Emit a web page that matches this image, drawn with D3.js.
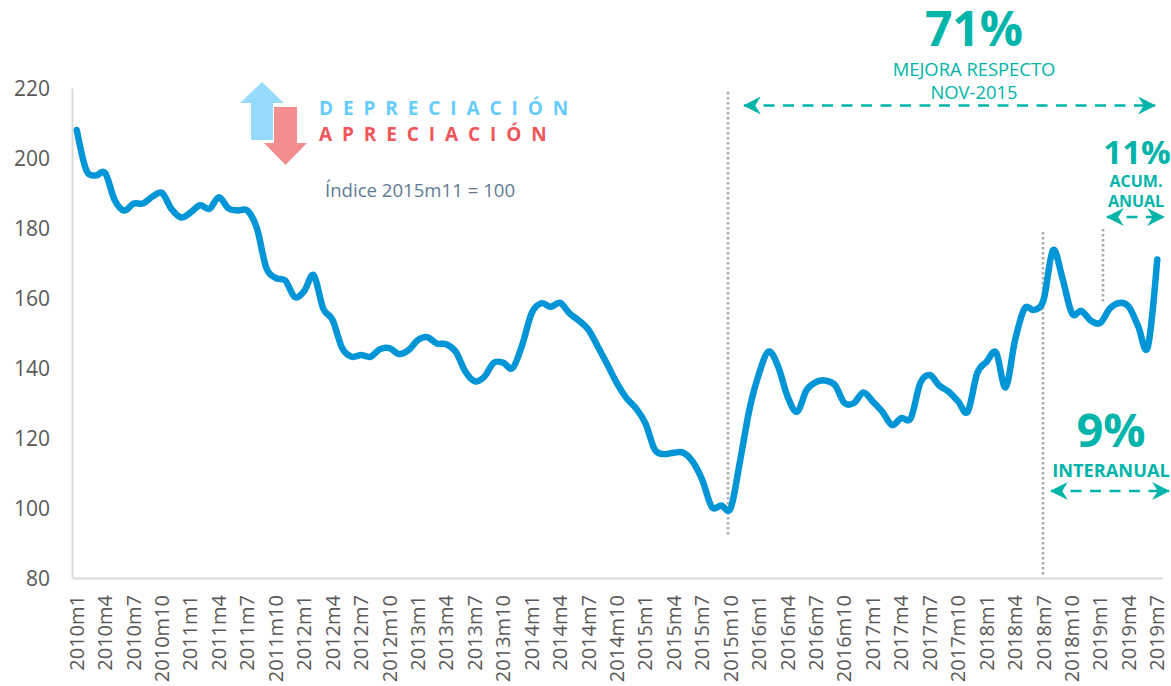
<!DOCTYPE html>
<html>
<head>
<meta charset="utf-8">
<script src="https://cdn.jsdelivr.net/npm/d3@7"></script>
<style>
  body { margin: 0; background: #fff; }
  text { font-family: "Open Sans", sans-serif; }
</style>
</head>
<body>
<div id="chart"></div>
<script>
    let years = [2010, 2011, 2012, 2013, 2014, 2015, 2016, 2017, 2018, 2019];
    let monthNumbers = [1, 2, 3, 4, 5, 6, 7, 8, 9, 10, 11, 12];

    // 2010m1 .. 2019m7
    let categories = years.flatMap(y => monthNumbers.map(m => y + "m" + m)).slice(0, 115);

    let indexValues = [
        208, 196.6, 195, 195.7, 188, 185, 187, 187, 189, 190, 185.4, 183,
        184.4, 186.5, 185.5, 188.8, 185.6, 185, 185, 180, 168.6, 165.7, 165, 160.3,
        162, 166.5, 157, 153.7, 145.7, 143.2, 143.7, 143.2, 145.4, 145.7, 144, 145.1,
        148, 148.8, 147, 146.8, 144.6, 139, 136.2, 137.5, 141.5, 141.5, 140, 146.6,
        155.7, 158.5, 157.5, 158.6, 155.6, 153.5, 150.9, 146, 140.9, 135.6, 131.4, 128.5,
        124.2, 116.6, 115.4, 115.8, 115.8, 113.2, 108, 100.3, 100.7, 100, 113.7, 128.5,
        138.5, 144.7, 140.4, 131.8, 127.5, 133.7, 136, 136.4, 135.1, 130, 130, 133,
        130.4, 127.5, 123.7, 125.7, 125.7, 135.7, 138, 135, 133.2, 130.4, 127.5, 138.5,
        141.8, 144.4, 134.5, 148, 157, 156.6, 159.4, 173.7, 165.6, 155.6, 156.3, 153.5,
        152.9, 157, 158.6, 157.5, 151.8, 146, 171
    ];

    let yTicks = [80, 100, 120, 140, 160, 180, 200, 220];

    let width = 1171, height = 686;
    let margin = {top: 88, right: 9, bottom: 108, left: 72};
    let teal = "#00B4AA";

    let svg = d3.select("#chart")
        .append("svg")
        .attr("width", width)
        .attr("height", height);

    let x = d3.scaleBand()
        .domain(categories)
        .range([margin.left, width - margin.right]);

    let y = d3.scaleLinear()
        .domain([80, 220])
        .range([height - margin.bottom, margin.top]);

    // Arrow head used by the dashed ranges
    svg.append("defs").append("marker")
        .attr("id", "head")
        .attr("viewBox", "0 0 16 16")
        .attr("refX", 15)
        .attr("refY", 8)
        .attr("markerWidth", 18)
        .attr("markerHeight", 18)
        .attr("markerUnits", "userSpaceOnUse")
        .attr("orient", "auto-start-reverse")
        .append("path")
        .attr("d", "M0,0 L16,8 L0,16 L5,8 Z")
        .attr("fill", teal);

    // Axes
    let xAxis = svg.append("g")
        .attr("transform", "translate(0," + y(80) + ")")
        .call(d3.axisBottom(x)
            .tickValues(categories.filter((d, i) => i % 3 === 0))
            .tickSize(0));

    xAxis.selectAll("text")
        .attr("transform", "rotate(-90)")
        .attr("text-anchor", "end")
        .attr("x", -17)
        .attr("y", 0)
        .attr("dy", "0.35em")
        .attr("font-size", "20px")
        .attr("fill", "#595959");

    let yAxis = svg.append("g")
        .attr("transform", "translate(" + margin.left + ",0)")
        .call(d3.axisLeft(y).tickValues(yTicks).tickSize(0));

    yAxis.selectAll("text")
        .attr("x", -22)
        .attr("y", 1)
        .attr("font-size", "21px")
        .attr("fill", "#595959");

    svg.selectAll(".domain")
        .attr("stroke", "#d9d9d9")
        .attr("stroke-width", 2);

    // Dotted reference lines
    let dotted = [
        {x: 728, y1: 92, y2: 536},
        {x: 1043, y1: 232, y2: 577},
        {x: 1103, y1: 229, y2: 303}
    ];

    svg.selectAll(".dotted")
        .data(dotted)
        .enter()
        .append("line")
        .attr("class", "dotted")
        .attr("x1", d => d.x)
        .attr("x2", d => d.x)
        .attr("y1", d => d.y1)
        .attr("y2", d => d.y2)
        .attr("stroke", "#ababab")
        .attr("stroke-width", 2.6)
        .attr("stroke-dasharray", "2.6 2.4");

    // The index line
    let line = d3.line()
        .x((d, i) => x(categories[i]) + x.bandwidth() / 2)
        .y(d => y(d))
        .curve(d3.curveCardinal.tension(0));

    svg.append("path")
        .datum(indexValues)
        .attr("fill", "none")
        .attr("stroke", "#0095D6")
        .attr("stroke-width", 6.5)
        .attr("stroke-linecap", "round")
        .attr("stroke-linejoin", "round")
        .attr("d", line);

    // Up and down arrows
    svg.append("polygon")
        .attr("points", "262,82 284,103 273,103 273,140 251,140 251,103 240,103")
        .attr("fill", "#96DBFC");

    svg.append("polygon")
        .attr("points", "274,107 297,107 297,143 307,143 285.5,165 264,143 274,143")
        .attr("fill", "#F48E8E");

    function label(txt, px, py, size, weight, color, anchor, spacing) {
        svg.append("text")
            .text(txt)
            .attr("x", px)
            .attr("y", py)
            .attr("font-size", size + "px")
            .attr("font-weight", weight)
            .attr("fill", color)
            .attr("text-anchor", anchor || "middle")
            .style("letter-spacing", (spacing || 0) + "px");
    }

    label("DEPRECIACIÓN", 319, 115, 19, 700, "#66CCFF", "start", 9.9);
    label("APRECIACIÓN", 319, 141, 19, 700, "#F0555A", "start", 9.9);
    label("Índice 2015m11 = 100", 325, 197, 18.6, 400, "#5F7A95", "start");

    label("71%", 974, 46, 48, 700, teal);
    label("MEJORA RESPECTO", 974, 76, 18.4, 400, teal);
    label("NOV-2015", 974, 99, 18.4, 400, teal);

    label("11%", 1137, 164, 33, 700, teal);
    label("ACUM.", 1136, 187, 16, 700, teal);
    label("ANUAL", 1136, 207, 16, 700, teal);

    label("9%", 1111, 447, 47, 700, teal);
    label("INTERANUAL", 1111, 477, 18.2, 700, teal);

    // Dashed ranges
    let ranges = [
        {x1: 744, x2: 1155, y: 105.5},
        {x1: 1107, x2: 1164, y: 217},
        {x1: 1051, x2: 1169, y: 491}
    ];

    svg.selectAll(".range")
        .data(ranges)
        .enter()
        .append("line")
        .attr("class", "range")
        .attr("x1", d => d.x1)
        .attr("x2", d => d.x2)
        .attr("y1", d => d.y)
        .attr("y2", d => d.y)
        .attr("stroke", teal)
        .attr("stroke-width", 2.6)
        .attr("stroke-dasharray", "11 8.5")
        .attr("marker-start", "url(#head)")
        .attr("marker-end", "url(#head)");
</script>
</body>
</html>
